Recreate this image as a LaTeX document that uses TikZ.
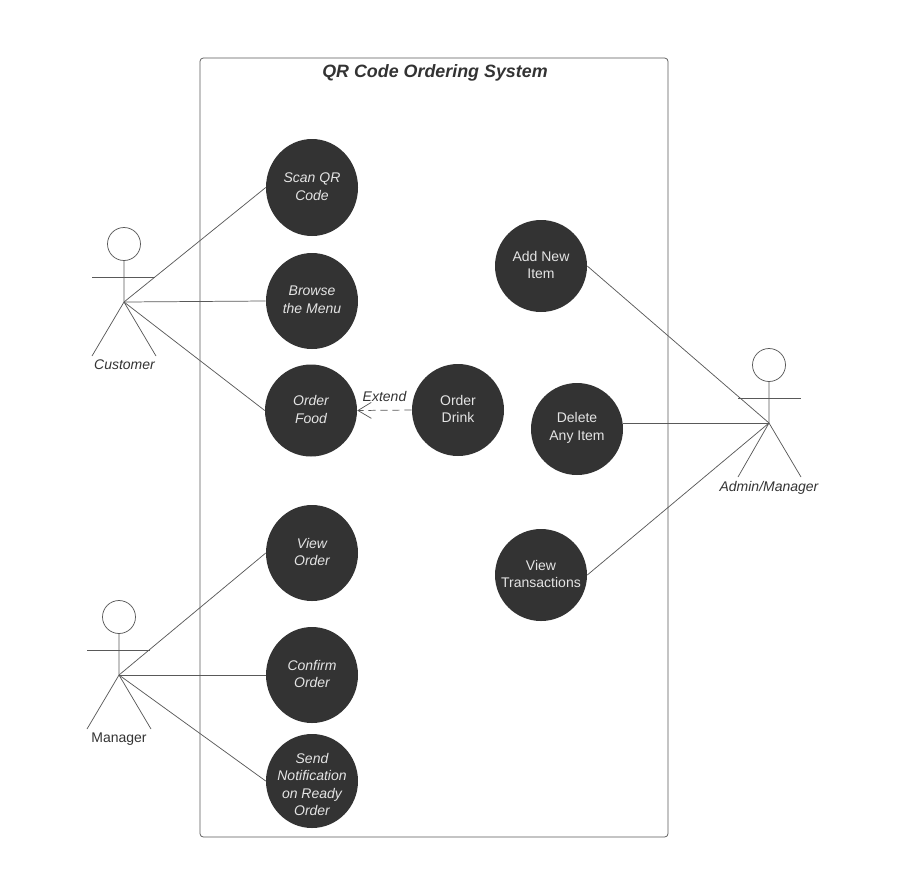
\documentclass[tikz,border=0pt]{standalone}
\usepackage{fontspec}
\setmainfont{Liberation Sans}
\usetikzlibrary{arrows.meta,shapes.geometric}
\definecolor{ucdark}{HTML}{333333}
\definecolor{uctext}{HTML}{E4E4E4}
\tikzset{
  uc/.style={ellipse,fill=ucdark,draw=none,minimum width=92*0.75pt,minimum height=#1*0.75pt,inner sep=0pt},
  uctxt/.style={text=uctext,inner sep=0pt,align=center,yshift=0.75pt,font=\fontsize{10.5}{13.2}\selectfont},
  uctxtit/.style={uctxt,font=\fontsize{10.5}{13.2}\selectfont\itshape},
  ln/.style={draw=black!65,line width=0.55pt},
  lab/.style={font=\fontsize{10.5}{12}\selectfont,text=black!80,inner sep=0pt},
  labit/.style={lab,font=\fontsize{10.5}{12}\selectfont\itshape},
  head/.style={circle,draw=black!65,line width=0.55pt,minimum size=33*0.75pt,inner sep=0pt}
}
\begin{document}
\begin{tikzpicture}[x=0.75pt,y=-0.75pt]
\useasboundingbox (0,0) rectangle (898,868);
\draw[ln,rounded corners=2.5pt] (200,58) rectangle (668,837);
\node[inner sep=0pt,font=\fontsize{13.4}{14}\selectfont\bfseries\itshape,text=black!80] (title) at (435,72.5) {QR Code Ordering System};
\node[uc=97,label={[uctxtit]center:Scan QR\\Code}] (scan) at (312,187.5) {};
\node[uc=96,label={[uctxtit]center:Browse\\the Menu}] (browse) at (312,301) {};
\node[uc=92,label={[uctxtit]center:Order\\Food}] (food) at (311,410.5) {};
\node[uc=92,label={[uctxt]center:Order\\Drink}] (drink) at (458,410) {};
\node[uc=92,label={[uctxt]center:Add New\\Item}] (add) at (541,266) {};
\node[uc=92,label={[uctxt]center:Delete\\Any Item}] (del) at (577,429) {};
\node[uc=92,label={[uctxt]center:View\\Transactions}] (trans) at (541,575) {};
\node[uc=96,label={[uctxtit]center:View\\Order}] (vieworder) at (312,553) {};
\node[uc=96,label={[uctxtit]center:Confirm\\Order}] (confirm) at (312,675) {};
\node[uc=94,label={[uctxtit,yshift=-3.4pt]center:Send\\Notification\\on Ready\\Order}] (send) at (312,781) {};
% customer
\node[head] (c1) at (124,244) {};
\coordinate (c2) at (124,302);
\coordinate (c3) at (92,356);
\coordinate (c4) at (156,356);
\coordinate (c5) at (92,277);
\coordinate (c6) at (155,277);
\draw[ln] (c1) -- (c2) -- (c3); \draw[ln] (c2) -- (c4); \draw[ln] (c5) -- (c6);
\node[labit] (cl) at (124.5,365) {Customer};
\draw[ln] (c2) -- (scan.west); \draw[ln] (c2) -- (browse.west); \draw[ln] (c2) -- (food.west);
% manager
\node[head] (m1) at (119,617) {};
\coordinate (m2) at (119,675);
\coordinate (m3) at (87,729);
\coordinate (m4) at (151,729);
\coordinate (m5) at (87,650);
\coordinate (m6) at (150,650);
\draw[ln] (m1) -- (m2) -- (m3); \draw[ln] (m2) -- (m4); \draw[ln] (m5) -- (m6);
\node[lab] (ml) at (119,739) {Manager};
\draw[ln] (m2) -- (vieworder.west); \draw[ln] (m2) -- (confirm.west); \draw[ln] (m2) -- (send.west);
% admin
\node[head] (a1) at (769,365) {};
\coordinate (a2) at (769,423);
\coordinate (a3) at (738,477);
\coordinate (a4) at (801,477);
\coordinate (a5) at (738,398);
\coordinate (a6) at (801,398);
\draw[ln] (a1) -- (a2) -- (a3); \draw[ln] (a2) -- (a4); \draw[ln] (a5) -- (a6);
\node[labit] (al) at (769,488) {Admin/Manager};
\draw[ln] (a2) -- (add.east); \draw[ln] (a2) -- (del.east |- a2); \draw[ln] (a2) -- (trans.east);
% extend
\draw[ln,dash pattern=on 5.5pt off 3.5pt,-{Straight Barb[length=10pt,width=12pt]}] (drink.west) -- (food.east);
\node[labit] (ext) at (384.5,396.5) {Extend};
\end{tikzpicture}
\end{document}
